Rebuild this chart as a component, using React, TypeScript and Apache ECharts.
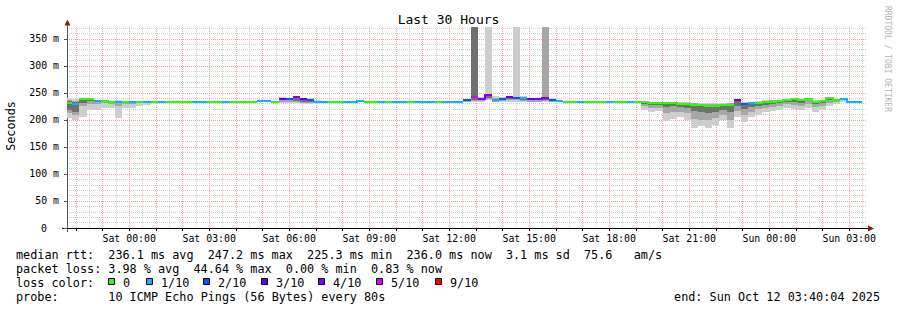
import React, { useEffect, useRef } from "react";
import * as echarts from "echarts";

// ---- time frame (hours relative to Sat 00:00) ----
const X_MIN = -(2 + 19 / 60 + 56 / 3600); // Fri 21:40:04
const X_MAX = 27 + 40 / 60 + 4 / 3600; // Sun 03:40:04
const Y_MAX = 372; // ms
const FIRST_BUCKET = -2.4; // Fri 21:36, 16-minute consolidation steps
const BUCKET_HOURS = 16 / 60;

const X_LABEL_HOURS = [0, 3, 6, 9, 12, 15, 18, 21, 24, 27];
const Y_LABEL_VALUES = [0, 50, 100, 150, 200, 250, 300, 350];

// ---- median rtt per bucket (ms) ----
const MEDIAN: (number | null)[] = [
  232, 230, 239, 238, 235, 235, 234, 234, 234, 234,
  234, 234, 234, 234, 234, 234, 234, 234, 234, 234,
  234, 234, 234, 234, 234, 234, 234, 235, 235, 234,
  239, 238, 242, 239, 237, 234, 234, 234, 234, 234,
  234, 235, 234, 234, 234, 234, 234, 234, 234, 234,
  234, 234, 234, 234, 234, 234, 236, 242, 239, 246,
  236, 239, 242, 241, 241, 238, 238, 240, 237, 235,
  234, 234, 234, 234, 234, 234, 234, 234, 234, 234,
  234, 233, 232, 232, 231, 231, 230, 229, 228, 227,
  226, 225.3, 227, 228, 236, 229, 231, 232, 233, 234,
  235, 236, 239, 236, 239, 234, 235, 240, 236, 238,
  234, 234, null,
];

// ---- packet loss per bucket (lost pings out of 10) ----
const LOSS: number[] = [
  0, 1, 0, 0, 1, 0, 0, 1, 0, 1,
  0, 1, 0, 1, 0, 0, 0, 0, 1, 1,
  0, 0, 1, 0, 0, 0, 0, 1, 1, 0,
  3, 2, 4, 3, 2, 1, 1, 0, 0, 1,
  1, 1, 0, 0, 1, 0, 1, 1, 0, 1,
  1, 1, 0, 1, 1, 1, 2, 5, 4, 4,
  1, 2, 3, 2, 1, 3, 4, 4, 2, 1,
  0, 0, 1, 0, 0, 0, 1, 0, 0, 1,
  0, 0, 0, 0, 0, 0, 0, 0, 0, 0,
  0, 0, 0, 0, 3, 2, 1, 0, 0, 0,
  0, 0, 0, 0, 0, 0, 0, 0, 0, 1,
  1, 1, 0,
];

// ---- smoke: outer / middle / inner ping spread per bucket (ms, 400 = off the top) ----
const OUTER_LO: (number | null)[] = [
  203, 200, 206, 219, 218, 222, 223, 204, 222, 222,
  226, 227, 231, 234, 234, 234, 234, 234, 234, 234,
  234, 234, 234, 234, 234, 234, 234, 235, 235, 234,
  232, 232, 231, 230, 230, 231, 234, 234, 234, 234,
  234, 235, 234, 234, 234, 234, 234, 234, 234, 234,
  234, 234, 234, 234, 234, 234, 233, 234, 233, 236,
  233, 233, 234, 234, 233, 233, 233, 234, 233, 233,
  234, 234, 234, 234, 234, 234, 234, 234, 234, 234,
  234, 219, 214, 216, 198, 202, 205, 200, 186, 188,
  186, 190, 200, 185, 205, 196, 205, 210, 214, 216,
  218, 222, 220, 218, 222, 215, 218, 226, 230, 234,
  234, 234, null,
];
const OUTER_HI: (number | null)[] = [
  240, 238, 241, 240, 237, 236, 235, 236, 235, 235,
  235, 235, 235, 234, 234, 234, 234, 234, 234, 234,
  234, 234, 234, 234, 234, 234, 234, 235, 235, 234,
  242, 241, 244, 241, 240, 236, 234, 234, 234, 234,
  234, 235, 234, 234, 234, 234, 234, 234, 234, 234,
  234, 234, 234, 234, 234, 234, 238, 400, 243, 400,
  244, 242, 244, 400, 244, 241, 241, 400, 240, 237,
  234, 234, 234, 234, 234, 234, 234, 234, 234, 234,
  234, 235, 234, 234, 234, 234, 233, 233, 232, 232,
  231, 231, 232, 232, 238, 233, 234, 235, 236, 237,
  237, 238, 241, 238, 241, 236, 237, 242, 237, 239,
  234, 234, null,
];
const MID_LO: (number | null)[] = [
  212, 210, 226, 230, 229, 231, 230, 226, 230, 230,
  231, 232, 234, 234, 234, 234, 234, 234, 234, 234,
  234, 234, 234, 234, 234, 234, 234, 235, 235, 234,
  234, 234, 233, 232, 232, 233, 234, 234, 234, 234,
  234, 235, 234, 234, 234, 234, 234, 234, 234, 234,
  234, 234, 234, 234, 234, 234, 234, 235, 235, 238,
  234, 235, 236, 236, 235, 234, 234, 235, 234, 234,
  234, 234, 234, 234, 234, 234, 234, 234, 234, 234,
  234, 226, 222, 222, 212, 214, 215, 212, 202, 200,
  199, 203, 210, 200, 216, 210, 215, 220, 222, 224,
  226, 230, 228, 226, 230, 224, 226, 232, 233, 236,
  234, 234, null,
];
const MID_HI: (number | null)[] = [
  237, 235, 240, 239, 236, 235, 235, 235, 235, 235,
  235, 234, 234, 234, 234, 234, 234, 234, 234, 234,
  234, 234, 234, 234, 234, 234, 234, 235, 235, 234,
  241, 240, 243, 240, 239, 235, 234, 234, 234, 234,
  234, 235, 234, 234, 234, 234, 234, 234, 234, 234,
  234, 234, 234, 234, 234, 234, 237, 400, 241, 248,
  240, 241, 243, 243, 243, 240, 240, 400, 239, 236,
  234, 234, 234, 234, 234, 234, 234, 234, 234, 234,
  234, 234, 233, 233, 233, 233, 232, 231, 231, 230,
  229, 229, 230, 231, 237, 231, 233, 234, 235, 236,
  236, 237, 240, 237, 240, 235, 236, 241, 237, 239,
  234, 234, null,
];
const INNER_LO: (number | null)[] = [
  218, 215, 232, 235, 233, 234, 233, 232, 233, 233,
  233, 234, 234, 234, 234, 234, 234, 234, 234, 234,
  234, 234, 234, 234, 234, 234, 234, 235, 235, 234,
  236, 236, 235, 234, 234, 234, 234, 234, 234, 234,
  234, 235, 234, 234, 234, 234, 234, 234, 234, 234,
  234, 234, 234, 234, 234, 234, 235, 236, 236, 240,
  235, 236, 238, 238, 237, 236, 236, 237, 235, 234,
  234, 234, 234, 234, 234, 234, 234, 234, 234, 234,
  234, 230, 228, 228, 224, 225, 224, 222, 216, 214,
  212, 214, 218, 214, 226, 220, 224, 226, 228, 230,
  232, 234, 234, 232, 236, 230, 232, 236, 235, 237,
  234, 234, null,
];
const INNER_HI: (number | null)[] = [
  235, 233, 239, 239, 236, 235, 235, 235, 234, 234,
  234, 234, 234, 234, 234, 234, 234, 234, 234, 234,
  234, 234, 234, 234, 234, 234, 234, 235, 235, 234,
  240, 239, 242, 239, 238, 234, 234, 234, 234, 234,
  234, 235, 234, 234, 234, 234, 234, 234, 234, 234,
  234, 234, 234, 234, 234, 234, 237, 400, 240, 247,
  238, 240, 243, 242, 242, 239, 239, 241, 238, 236,
  234, 234, 234, 234, 234, 234, 234, 234, 234, 234,
  234, 234, 233, 233, 232, 232, 231, 230, 230, 229,
  228, 228, 229, 230, 237, 230, 232, 233, 234, 235,
  236, 237, 240, 237, 240, 235, 236, 241, 237, 239,
  234, 234, null,
];

// ---- loss colours ----
const LOSS_COLORS = [
  "#26ff00", "#00b8ff", "#0059ff", "#5e00ff", "#7e00ff", "#dd00ff",
  "#dd00ff", "#dd00ff", "#dd00ff", "#ff0000", "#ff0000",
];
const LEGEND_LOSS_LEVELS = [0, 1, 2, 3, 4, 5, 9];
const LEGEND_LOSS_LABELS = ["0", "1/10", "2/10", "3/10", "4/10", "5/10", "9/10"];

// ---- legend texts ----
const RTT_STATS = ["236.1 ms avg", "247.2 ms max", "225.3 ms min", "236.0 ms now", "3.1 ms sd", "75.6", "am/s"];
const LOSS_STATS = ["3.98 % avg", "44.64 % max", "0.00 % min", "0.83 % now"];
const PROBE_TEXT = "10 ICMP Echo Pings (56 Bytes) every 80s";
const END_TEXT = "end: Sun Oct 12 03:40:04 2025";

const MONO = '"DejaVu Sans Mono", monospace';
const SMOKE_COLORS = ["#cdcdcd", "#a6a6a6", "#707070"];
const MINOR_GRID = "#cfcfcf";
const MAJOR_GRID = "#f2a0a0";

const bucketRange = (i: number) => {
  const a = Math.max(FIRST_BUCKET + i * BUCKET_HOURS, X_MIN);
  const b = Math.min(FIRST_BUCKET + (i + 1) * BUCKET_HOURS, X_MAX);
  return [a, b];
};

export default function App() {
  const ref = useRef<HTMLDivElement>(null);

  useEffect(() => {
    const chart = echarts.init(ref.current!, undefined, { renderer: "svg", width: 897, height: 310 });

    const bands = [
      { lo: OUTER_LO, hi: OUTER_HI, color: SMOKE_COLORS[0] },
      { lo: MID_LO, hi: MID_HI, color: SMOKE_COLORS[1] },
      { lo: INNER_LO, hi: INNER_HI, color: SMOKE_COLORS[2] },
    ];

    const bucketData = MEDIAN.map((m, i) => [FIRST_BUCKET + i * BUCKET_HOURS, m, i]).filter(
      (d) => d[1] != null
    );

    // grid positions (major: every hour / 50 ms, minor: half hours / 10 ms)
    const hourTicks: number[] = [];
    for (let h = -2; h <= 27; h++) hourTicks.push(h);
    const halfHourTicks: number[] = [];
    for (let h = -1.5; h <= 27.5; h += 1) halfHourTicks.push(h);
    const tenMsTicks: number[] = [];
    for (let v = 10; v < Y_MAX; v += 10) if (v % 50 !== 0) tenMsTicks.push(v);

    const smokeRender = (_p: any, api: any) => {
      const i = api.value(2) as number;
      const [tA, tB] = bucketRange(i);
      const xa = Math.round(api.coord([tA, 0])[0]);
      const xb = Math.round(api.coord([tB, 0])[0]);
      const children: any[] = [];
      for (const band of bands) {
        const lo = band.lo[i];
        const hiRaw = band.hi[i];
        if (lo == null || hiRaw == null) continue;
        const hi = Math.min(hiRaw, Y_MAX);
        if (hi <= lo) continue;
        const yTop = Math.round(api.coord([tA, hi])[1]);
        const yBot = Math.round(api.coord([tA, lo])[1]);
        if (yBot <= yTop) continue;
        children.push({
          type: "rect",
          shape: { x: xa, y: yTop, width: xb - xa, height: yBot - yTop },
          style: { fill: band.color },
        });
      }
      return { type: "group", children };
    };

    const medianRender = (_p: any, api: any) => {
      const i = api.value(2) as number;
      const m = MEDIAN[i] as number;
      const [tA, tB] = bucketRange(i);
      const xa = Math.round(api.coord([tA, 0])[0]);
      const xb = Math.round(api.coord([tB, 0])[0]);
      const yc = Math.round(api.coord([tA, m])[1]);
      const color = LOSS_COLORS[LOSS[i]];
      const children: any[] = [
        { type: "rect", shape: { x: xa, y: yc - 1, width: xb - xa, height: 2 }, style: { fill: color } },
      ];
      const next = MEDIAN[i + 1];
      if (next != null && LOSS[i + 1] === LOSS[i]) {
        const yn = Math.round(api.coord([tA, next])[1]);
        if (yn !== yc) {
          children.push({
            type: "rect",
            shape: { x: xb - 1, y: Math.min(yc, yn) - 1, width: 2, height: Math.abs(yn - yc) + 2 },
            style: { fill: color },
          });
        }
      }
      return { type: "group", children };
    };

    const CW = 7.1;
    const LX = 16;
    const textEl = (x: number, y: number, text: string, extra: any = {}) => ({
      type: "text",
      x,
      y,
      silent: true,
      style: {
        text,
        fill: "#000",
        fontFamily: MONO,
        fontSize: 11.8,
        align: "left",
        verticalAlign: "middle",
        ...extra,
      },
    });

    const rows = [255, 269, 283, 297];
    const rttCols = [13, 27, 41, 55, 69, 80, 87];
    const lossCols = [13, 25, 38, 50];
    const boxX = [108, 146, 203, 261, 318, 376, 435];

    const graphic: any[] = [
      {
        type: "text",
        x: 448.5,
        y: 19.5,
        silent: true,
        style: { text: "Last 30 Hours", fill: "#000", fontFamily: MONO, fontSize: 13, align: "center", verticalAlign: "middle" },
      },
      {
        type: "text",
        x: 10.5,
        y: 126,
        rotation: Math.PI / 2,
        silent: true,
        style: { text: "Seconds", fill: "#000", fontFamily: MONO, fontSize: 11.8, align: "center", verticalAlign: "middle" },
      },
      {
        type: "text",
        x: 887,
        y: 59,
        rotation: -Math.PI / 2,
        silent: true,
        style: { text: "RRDTOOL / TOBI OETIKER", fill: "#b4b4b4", fontFamily: MONO, fontSize: 8, align: "center", verticalAlign: "middle" },
      },
      // axis extensions and arrows
      { type: "line", silent: true, shape: { x1: 62, y1: 228.5, x2: 67, y2: 228.5 }, style: { stroke: "#000", lineWidth: 1 } },
      { type: "line", silent: true, shape: { x1: 867, y1: 228.5, x2: 869, y2: 228.5 }, style: { stroke: "#000", lineWidth: 1 } },
      { type: "line", silent: true, shape: { x1: 67.5, y1: 22, x2: 67.5, y2: 27 }, style: { stroke: "#555", lineWidth: 1 } },
      { type: "line", silent: true, shape: { x1: 67.5, y1: 228, x2: 67.5, y2: 232 }, style: { stroke: "#555", lineWidth: 1 } },
      { type: "polygon", silent: true, shape: { points: [[64.5, 25.5], [70.5, 25.5], [67.5, 19.5]] }, style: { fill: "#8b1a1a" } },
      { type: "polygon", silent: true, shape: { points: [[868, 225.5], [868, 231.5], [874, 228.5]] }, style: { fill: "#8b1a1a" } },
      // legend
      textEl(LX, rows[0], "median rtt:"),
      ...RTT_STATS.map((s, k) => textEl(LX + rttCols[k] * CW, rows[0], s)),
      textEl(LX, rows[1], "packet loss:"),
      ...LOSS_STATS.map((s, k) => textEl(LX + lossCols[k] * CW, rows[1], s)),
      textEl(LX, rows[2], "loss color:"),
      ...LEGEND_LOSS_LEVELS.map((lv, k) => ({
        type: "rect",
        silent: true,
        shape: { x: boxX[k] + 0.5, y: 278.5, width: 6, height: 6 },
        style: { fill: LOSS_COLORS[lv], stroke: "#000", lineWidth: 1 },
      })),
      ...LEGEND_LOSS_LABELS.map((s, k) => textEl(boxX[k] + 15, rows[2], s)),
      textEl(LX, rows[3], "probe:"),
      textEl(LX + 13 * CW, rows[3], PROBE_TEXT),
      textEl(880, rows[3], END_TEXT, { align: "right" }),
    ];

    const dayName = (h: number) => (h < 24 ? "Sat" : "Sun");
    const pad2 = (n: number) => (n < 10 ? "0" + n : "" + n);

    const hiddenAxisParts = {
      axisLine: { show: false },
      axisLabel: { show: false },
    };

    chart.setOption({
      animation: false,
      backgroundColor: "#ffffff",
      grid: { left: 67, top: 27, width: 800, height: 201, containLabel: false },
      xAxis: [
        {
          type: "value",
          min: X_MIN,
          max: X_MAX,
          position: "top",
          z: 0,
          ...hiddenAxisParts,
          axisTick: { show: false, customValues: halfHourTicks },
          splitLine: { show: true, lineStyle: { color: MINOR_GRID, width: 1, type: [1, 1] } },
        },
        {
          type: "value",
          min: X_MIN,
          max: X_MAX,
          position: "bottom",
          z: 1,
          axisLine: { show: true, onZero: false, lineStyle: { color: "#000", width: 1 } },
          axisTick: { show: true, customValues: hourTicks, length: 3, inside: false, lineStyle: { color: "#000" } },
          axisLabel: {
            customValues: X_LABEL_HOURS,
            formatter: (v: number) => `${dayName(v)} ${pad2(Math.round(v) % 24)}:00`,
            fontFamily: MONO,
            fontSize: 9.9,
            color: "#000",
            margin: 5,
          },
          splitLine: { show: true, lineStyle: { color: MAJOR_GRID, width: 1, type: [1, 1] } },
        },
      ],
      yAxis: [
        {
          type: "value",
          min: 0,
          max: Y_MAX,
          position: "right",
          z: 0,
          ...hiddenAxisParts,
          axisTick: { show: false, customValues: tenMsTicks },
          splitLine: { show: true, lineStyle: { color: MINOR_GRID, width: 1, type: [1, 1] } },
        },
        {
          type: "value",
          min: 0,
          max: Y_MAX,
          position: "left",
          z: 1,
          axisLine: { show: true, onZero: false, lineStyle: { color: "#555", width: 1 } },
          axisTick: { show: true, customValues: Y_LABEL_VALUES, length: 3, inside: false, lineStyle: { color: "#555" } },
          axisLabel: {
            customValues: Y_LABEL_VALUES,
            formatter: (v: number) => (v === 0 ? "{n|0}{p|}" : `{n|${v} m}`),
            rich: {
              n: { fontFamily: MONO, fontSize: 9.9, color: "#000" },
              p: { fontFamily: MONO, fontSize: 9.9, color: "#000", width: 12 },
            },
            fontFamily: MONO,
            fontSize: 9.9,
            color: "#000",
            margin: 8,
          },
          splitLine: { show: true, lineStyle: { color: MAJOR_GRID, width: 1, type: [1, 1] } },
        },
      ],
      series: [
        {
          type: "custom",
          name: "smoke",
          silent: true,
          z: 2,
          xAxisIndex: 1,
          yAxisIndex: 1,
          data: bucketData,
          encode: { x: 0, y: 1 },
          renderItem: smokeRender,
        },
        {
          type: "custom",
          name: "median",
          silent: true,
          z: 3,
          xAxisIndex: 1,
          yAxisIndex: 1,
          data: bucketData,
          encode: { x: 0, y: 1 },
          renderItem: medianRender,
        },
      ],
      graphic,
    });

    return () => chart.dispose();
  }, []);

  return <div ref={ref} style={{ position: "absolute", left: 0, top: 0, width: 897, height: 310 }} />;
}
